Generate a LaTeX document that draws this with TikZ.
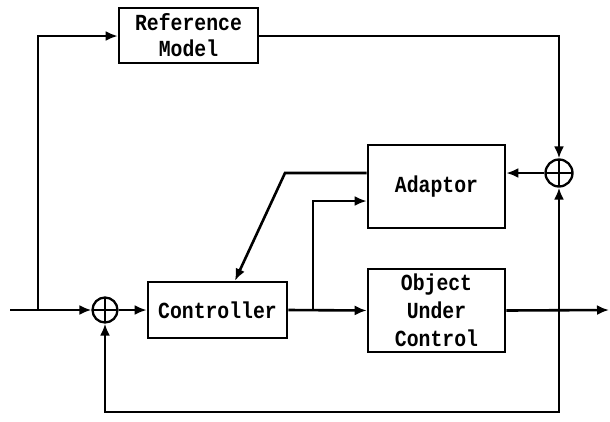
\documentclass[tikz,border=0pt]{standalone}
\usepackage{fontspec}
\newfontfamily\blockfont[FakeStretch=0.86]{Liberation Mono}
\usetikzlibrary{arrows.meta}

\tikzset{
  wire/.style={line width=2.6pt, line join=miter},
  arr/.style={wire, -{Latex[length=12pt,width=10pt]}},
  blockbox/.style={draw, line width=2.6pt, inner sep=0pt, align=center,
    font=\blockfont\bfseries\fontsize{23}{26}\selectfont},
  sumnode/.style={circle, draw, line width=2.3pt, minimum size=#1, inner sep=0pt,
    path picture={
      \draw[line width=2.3pt] (path picture bounding box.north) -- (path picture bounding box.south);
      \draw[line width=2.3pt] (path picture bounding box.west) -- (path picture bounding box.east);
    }},
}

\begin{document}
\begin{tikzpicture}[x=1pt,y=-1pt]
  \useasboundingbox (0,0) rectangle (610,421);

  % blocks
  \node[blockbox, minimum width=139pt, minimum height=55pt] (ref) at (188.5,35.5) {Reference\\Model};
  \node[blockbox, minimum width=137pt, minimum height=83pt] (adapt) at (436.5,186.5) {Adaptor};
  \node[blockbox, minimum width=139pt, minimum height=56pt] (ctrl) at (217.5,310) {Controller};
  \node[blockbox, minimum width=137pt, minimum height=83pt, font=\blockfont\bfseries\fontsize{23}{28}\selectfont] (plant) at (436.5,310.5) {Object\\Under\\Control};

  % summing junctions
  \node[sumnode=25pt] (s1) at (105,310) {};
  \node[sumnode=27pt] (s2) at (559,173) {};

  % branch points and free ends
  \coordinate (in) at (10,310);
  \coordinate (b1) at (38,310);
  \coordinate (b2) at (313,310);
  \coordinate (b3) at (559,310);
  \coordinate (out) at (609,310);
  \coordinate (k1) at (285,173);

  % input and reference model path
  \draw[arr] (in) -- (s1.west);
  \draw[arr] (b1) -- (38,36) -- (ref.west |- 0,36);
  \draw[arr] (ref.east |- 0,36) -- (559,36) -- (s2.north);

  % forward path
  \draw[arr] (s1.east) -- (ctrl.west);
  \draw[arr] (ctrl.east) -- (plant.west);
  \draw[arr] (plant.east) -- (out);

  % adaptation loop
  \draw[arr] (b2) -- (313,201) -- (adapt.west |- 0,201);
  \draw[arr] (adapt.west |- 0,173) -- (k1) -- (ctrl.north -| 235,0);
  \draw[arr] (s2.west) -- (adapt.east |- s2.west);
  \draw[arr] (559,412) -- (s2.south);

  % feedback loop
  \draw[arr] (b3) -- (559,412) -- (105,412) -- (s1.south);
\end{tikzpicture}
\end{document}
